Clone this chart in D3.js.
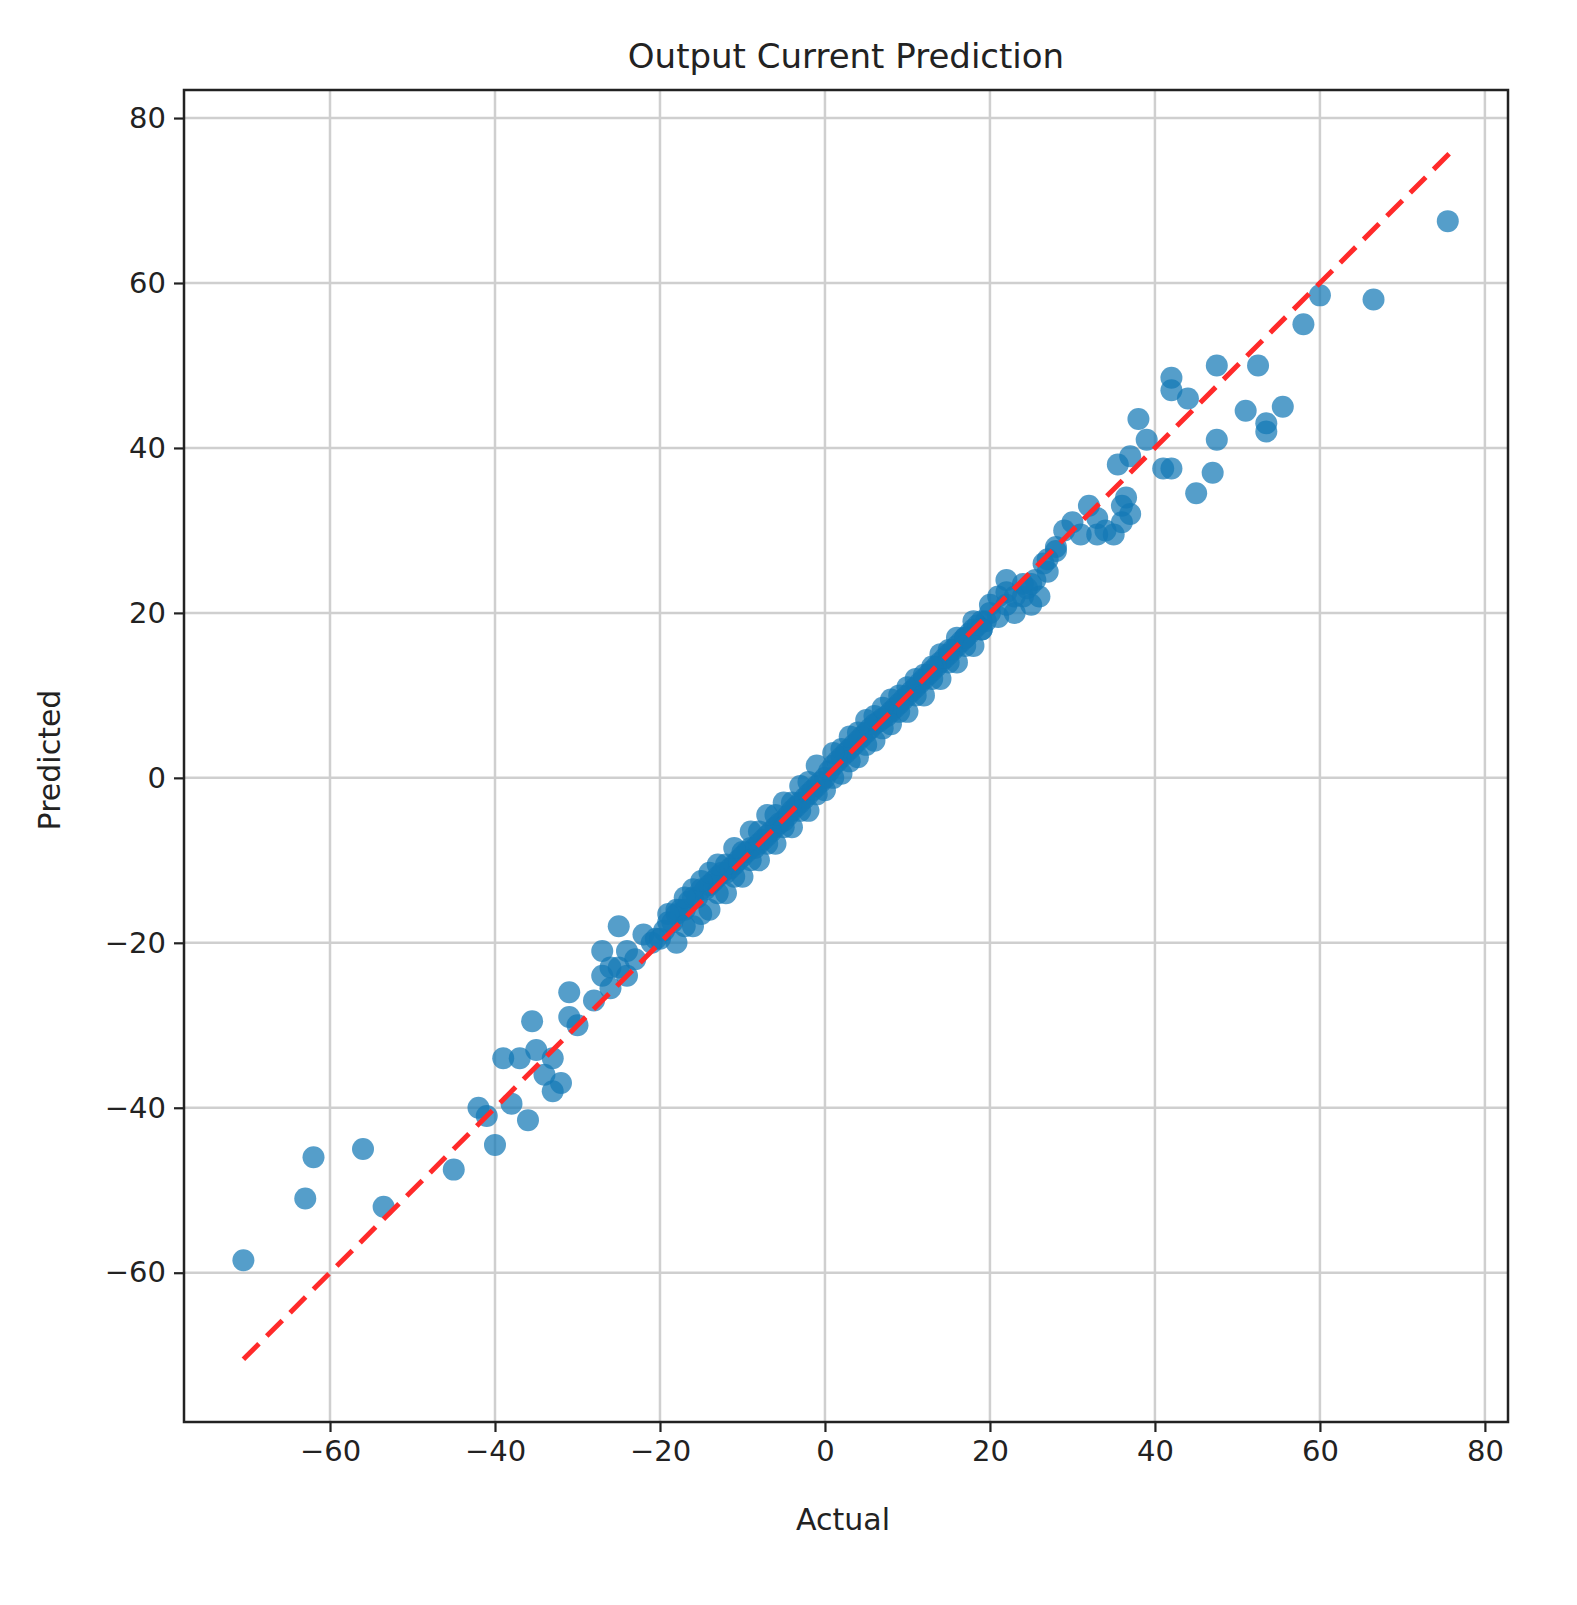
<!DOCTYPE html>
<html><head><meta charset="utf-8">
<script src="https://cdn.jsdelivr.net/npm/d3@7"></script>
<style>body{margin:0;background:#fff}</style>
</head><body>
<svg id="c" width="1577" height="1605"></svg>
<script>
const xTicks=[-60,-40,-20,0,20,40,60,80];
const yTicks=[-60,-40,-20,0,20,40,60,80];
const lineEnds=[-70.5,75.8];
const actual=[-70.5,-63,-62,-56,-53.5,-45,-42,-41,-40,-38,-36,-39,-37,-35.5,-35,-34,-33,-32,-33,-31,-31,-30,-28,-27,-25,-26,-24,-23,-22,-27,-26,-25,-24,
75.5,66.5,60,58,52.5,55.5,53.5,53.5,51,47.5,47.5,47,45,44,42,42,42,41,39,38,37,36,36,35,33,34,32,30,28,27,26,25,24,22,23,26.5,25.5,24.5,21,37,36.5,35.5,
-21,-20.5,-20,-19.5,-19,-18.5,-18,-17.5,-17,-16.5,-16,-15.5,-15,-14.5,-14,-13.5,-13,-12.5,-12,-11.5,-11,-10.5,-10,-9.5,-9,-8.5,-8,-7.5,-7,-6.5,-6,-5.5,-5,-4.5,-4,-3.5,-3,-2.5,-2,-1.5,-1,-0.5,0,0.5,1,1.5,2,2.5,3,3.5,4,4.5,5,5.5,6,6.5,7,7.5,8,8.5,9,9.5,10,10.5,11,11.5,12,12.5,13,13.5,14,14.5,15,15.5,16,16.5,17,17.5,18,18.5,19,19.5,20,
-18,-16,-14,-12,-10,-8,-6,-4,-2,2,4,6,8,10,12,14,16,18,20,
-17,-15,-13,-11,-9,-7,-5,-3,-1,1,3,5,7,9,11,13,15,17,19,21,22,23,
-19,-17,-15,-13,-11,-9,-7,-5,-3,-1,1,3,5,7,9,11,13,15,17,19,
-18,-16,-14,-12,-10,-8,-6,-4,-2,0,2,4,6,8,10,12,14,16,18,22,24,25,27,28,29,31,33];
const predicted=[-58.5,-51,-46,-45,-52,-47.5,-40,-41,-44.5,-39.5,-41.5,-34,-34,-29.5,-33,-36,-38,-37,-34,-29,-26,-30,-27,-21,-18,-23,-24,-22,-19,-24,-25.5,-23,-21,
67.5,58,58.5,55,50,45,43,42,44.5,50,41,37,34.5,46,48.5,47,37.5,37.5,41,43.5,39,33,31,29.5,29.5,30,33,31,28,25,22,21,23.5,22.5,20,26,24,23,22,32,34,38,
-20,-19.5,-19.5,-18.5,-17.5,-17.5,-16.5,-16,-16,-15,-14.5,-14.5,-13.5,-13.5,-13,-12.5,-12,-11.5,-11.5,-11,-10.5,-10,-9.5,-9,-8.5,-8.5,-8,-7.5,-7,-6.5,-6,-5.5,-5.2,-4.6,-4,-3.5,-3,-2.5,-2,-1.5,-1,-0.5,0,0.8,1.5,2,2.5,3,3.5,4,4.5,5,5.5,6,6.5,6.8,7.2,7.5,8,8.5,9,9.5,10,10.5,11,11.5,12,12.5,13,13.5,14,14.5,15,15.5,16,16.5,17,17.5,18,18.5,19,19,20,
-16,-13.5,-11.5,-10.5,-9,-6.5,-4.5,-3,-0.5,3.5,5.5,7.5,9.5,11,12.5,15,17,19,21,
-18,-16.5,-14,-12,-10,-8,-6,-4,-2,0,2,4,6,8,10,12,14,16,18,19.5,21,22,
-16.5,-14.5,-12.5,-10.5,-8.5,-6.5,-4.5,-3,-1,1.5,3,5,7,8.5,10,12,13.5,15.5,17,18,
-20,-18,-16,-14,-12,-10,-8,-6,-4,-1.5,0.5,2.5,4.5,6.5,8,10,12,14,16,24,22,23.5,26.5,27.5,30,29.5,31.5];

const svg=d3.select("#c");
const L=184,R=1508,T=90,B=1422;
const x=d3.scaleLinear().domain([-77.7,82.8]).range([L,R]);
const y=d3.scaleLinear().domain([-78.1,83.4]).range([B,T]);
const font="DejaVu Sans";
const g=svg.append("g");
g.selectAll(".gx").data(xTicks).join("line").attr("x1",d=>x(d)).attr("x2",d=>x(d)).attr("y1",T).attr("y2",B).attr("stroke","#cfcfcf").attr("stroke-width",2.5);
g.selectAll(".gy").data(yTicks).join("line").attr("y1",d=>y(d)).attr("y2",d=>y(d)).attr("x1",L).attr("x2",R).attr("stroke","#cfcfcf").attr("stroke-width",2.5);
g.selectAll("circle").data(actual.map((a,i)=>[a,predicted[i]])).join("circle")
 .attr("cx",d=>x(d[0])).attr("cy",d=>y(d[1])).attr("r",11).attr("fill","#1479b5").attr("fill-opacity",0.72);
g.append("line").attr("x1",x(lineEnds[0])).attr("y1",y(lineEnds[0])).attr("x2",x(lineEnds[1])).attr("y2",y(lineEnds[1]))
 .attr("stroke","#ff2a2a").attr("stroke-width",5).attr("stroke-dasharray","22,11");
svg.append("rect").attr("x",L).attr("y",T).attr("width",R-L).attr("height",B-T).attr("fill","none").attr("stroke","#222").attr("stroke-width",2.5);
const ax=svg.append("g").attr("transform",`translate(0,${B})`).call(d3.axisBottom(x).tickValues(xTicks).tickSize(10).tickPadding(8).tickFormat(d=>d<0?"−"+(-d):d));
const ay=svg.append("g").attr("transform",`translate(${L},0)`).call(d3.axisLeft(y).tickValues(yTicks).tickSize(10).tickPadding(8).tickFormat(d=>d<0?"−"+(-d):d));
[ax,ay].forEach(a=>{a.select(".domain").remove();a.selectAll("line").attr("stroke","#222").attr("stroke-width",2.2);a.selectAll("text").attr("font-family",font).attr("font-size",29).attr("fill","#222");});
svg.append("text").attr("x",846).attr("y",68).attr("text-anchor","middle").attr("font-family",font).attr("font-size",34).attr("fill","#222").text("Output Current Prediction");
svg.append("text").attr("x",843).attr("y",1530).attr("text-anchor","middle").attr("font-family",font).attr("font-size",30).attr("fill","#222").text("Actual");
svg.append("text").attr("transform","translate(60,760) rotate(-90)").attr("text-anchor","middle").attr("font-family",font).attr("font-size",30).attr("fill","#222").text("Predicted");
</script></body></html>
